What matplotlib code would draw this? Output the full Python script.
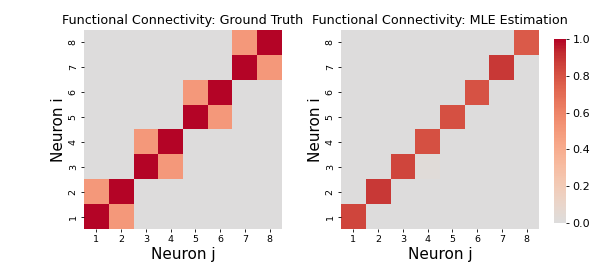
import numpy as np
import matplotlib
matplotlib.use("Agg")
import matplotlib.pyplot as plt
import seaborn as sns

labels = [1, 2, 3, 4, 5, 6, 7, 8]
block_strong = 1.0
block_weak = 0.5
mle_diag = [0.85, 0.89, 0.85, 0.81, 0.81, 0.80, 0.89, 0.77]
mle_offdiag = {(2, 3): 0.025}  # (row i index, col j index) 0-based

n = len(labels)
gt = np.zeros((n, n))
for b in range(0, n, 2):
    gt[b, b] = block_strong
    gt[b + 1, b + 1] = block_strong
    gt[b, b + 1] = block_weak
    gt[b + 1, b] = block_weak

mle = np.zeros((n, n))
for k, v in enumerate(mle_diag):
    mle[k, k] = v
for (r, c), v in mle_offdiag.items():
    mle[r, c] = v

fig = plt.figure(figsize=(6.09, 2.62), dpi=100)
ax1 = fig.add_axes([0.138, 0.126, 0.325, 0.76])
ax2 = fig.add_axes([0.560, 0.126, 0.325, 0.76])
cax = fig.add_axes([0.910, 0.149, 0.0197, 0.702])

sns.heatmap(gt, ax=ax1, cmap="coolwarm", center=0, vmin=0, vmax=1, cbar=False,
            xticklabels=labels, yticklabels=labels)
sns.heatmap(mle, ax=ax2, cmap="coolwarm", center=0, vmin=0, vmax=1, cbar=True,
            cbar_ax=cax, xticklabels=labels, yticklabels=labels)

for ax, title in [(ax1, "Functional Connectivity: Ground Truth"),
                  (ax2, "Functional Connectivity: MLE Estimation")]:
    ax.invert_yaxis()
    ax.set_title(title, fontsize=9.2, pad=4)
    ax.set_xlabel("Neuron j", fontsize=11, labelpad=2)
    ax.set_ylabel("Neuron i", fontsize=11, labelpad=2)
    ax.tick_params(axis="both", labelsize=6.8, length=2.5, width=0.6, pad=2)
    ax.set_xticklabels(labels, rotation=0)
    ax.set_yticklabels(labels, rotation=90, va="center")

cax.tick_params(labelsize=8, length=2.5, width=0.6, pad=2)
cax.set_yticks([0.0, 0.2, 0.4, 0.6, 0.8, 1.0])
cax.set_yticklabels(["0.0", "0.2", "0.4", "0.6", "0.8", "1.0"])
for s in cax.spines.values():
    s.set_visible(False)

fig.savefig("out.png", dpi=100)
